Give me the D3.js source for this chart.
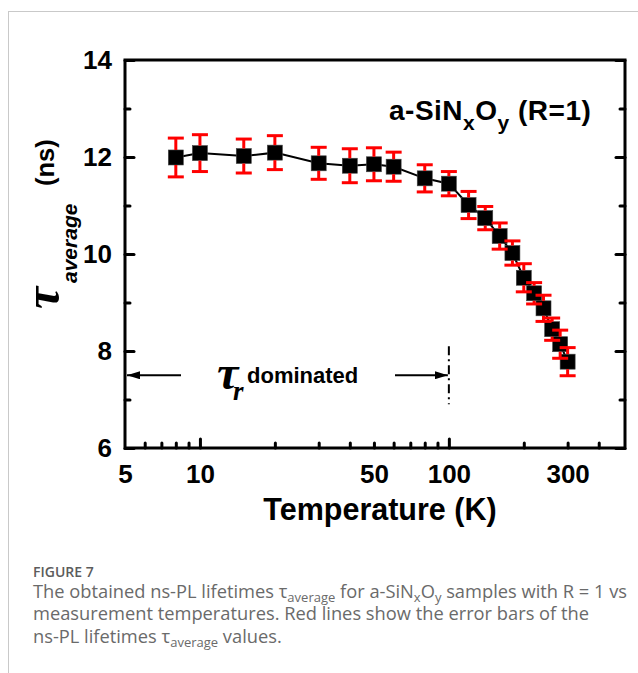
<!DOCTYPE html>
<html>
<head>
<meta charset="utf-8">
<script src="https://cdn.jsdelivr.net/npm/d3@7"></script>
<style>
  html, body { margin: 0; padding: 0; background: #fff; }
  svg { display: block; }
</style>
</head>
<body>
<svg id="fig" width="638" height="673"></svg>
<script>
// Measured temperatures (K), average ns-PL lifetimes (ns) and their error bars (ns)
const temperatures = [8, 10, 15, 20, 30, 40, 50, 60, 80, 100, 120, 140, 160, 180, 200, 220, 240, 260, 280, 300];
const tauAverage   = [11.99, 12.08, 12.02, 12.09, 11.87, 11.82, 11.85, 11.80, 11.56, 11.45, 11.01, 10.74, 10.37, 10.02, 9.51, 9.19, 8.88, 8.45, 8.14, 7.78];
const tauError     = [0.40, 0.38, 0.35, 0.35, 0.33, 0.35, 0.34, 0.30, 0.28, 0.25, 0.28, 0.24, 0.27, 0.25, 0.29, 0.22, 0.27, 0.23, 0.29, 0.29];

// Axis ticks
const xLabelTicks = [5, 10, 50, 100, 300];
const xMajorTicks = [10, 100];
const xMinorTicks = [6, 7, 8, 9, 20, 30, 40, 50, 60, 70, 80, 90, 200, 300, 400];
const yMajorTicks = [6, 8, 10, 12, 14];
const yMinorTicks = [7, 9, 11, 13];

// Region boundary for the radiative-lifetime dominated range
const tauRBoundary = 100;
const tauRArrowY = 7.5;

const svg = d3.select("#fig");
const plotLeft = 125, plotRight = 625, plotTop = 60, plotBottom = 448;

const x = d3.scaleLog().domain([5, 510]).range([plotLeft, plotRight]);
const y = d3.scaleLinear().domain([6, 14]).range([plotBottom, plotTop]);

// Card border
svg.append("line").attr("x1", 8).attr("x2", 638).attr("y1", 11.5).attr("y2", 11.5)
  .attr("stroke", "#c9c9c9").attr("stroke-width", 1);
svg.append("line").attr("x1", 8.5).attr("x2", 8.5).attr("y1", 11).attr("y2", 673)
  .attr("stroke", "#c9c9c9").attr("stroke-width", 1);

const bold = "'Liberation Sans', Arial, sans-serif";
const serif = "'Liberation Serif', 'Times New Roman', serif";

function styleTicks(g) {
  g.select(".domain").remove();
  g.selectAll(".tick line").attr("stroke", "#000").attr("stroke-width", 3).attr("stroke-linecap", "round");
}

// Bottom axis: labels, major and minor ticks (inward)
svg.append("g").attr("transform", `translate(0,${plotBottom})`)
  .call(d3.axisBottom(x).tickValues(xLabelTicks).tickFormat(d3.format("d")).tickSize(0).tickPadding(17))
  .call(g => { g.select(".domain").remove(); })
  .selectAll("text").attr("font-family", bold).attr("font-weight", "bold").attr("font-size", 26).attr("fill", "#000");
svg.append("g").attr("transform", `translate(0,${plotBottom})`)
  .call(d3.axisBottom(x).tickValues(xMajorTicks).tickFormat("").tickSizeInner(-9).tickSizeOuter(0))
  .call(styleTicks);
svg.append("g").attr("transform", `translate(0,${plotBottom})`)
  .call(d3.axisBottom(x).tickValues(xMinorTicks).tickFormat("").tickSizeInner(-5).tickSizeOuter(0))
  .call(styleTicks);

// Left axis
svg.append("g").attr("transform", `translate(${plotLeft},0)`)
  .call(d3.axisLeft(y).tickValues(yMajorTicks).tickFormat(d3.format("d")).tickSizeInner(-9).tickSizeOuter(0).tickPadding(13))
  .call(styleTicks)
  .selectAll("text").attr("font-family", bold).attr("font-weight", "bold").attr("font-size", 26).attr("fill", "#000");
svg.append("g").attr("transform", `translate(${plotLeft},0)`)
  .call(d3.axisLeft(y).tickValues(yMinorTicks).tickFormat("").tickSizeInner(-5).tickSizeOuter(0))
  .call(styleTicks);

// Right axis (ticks only)
svg.append("g").attr("transform", `translate(${plotRight},0)`)
  .call(d3.axisRight(y).tickValues(yMajorTicks).tickFormat("").tickSizeInner(-9).tickSizeOuter(0))
  .call(styleTicks);
svg.append("g").attr("transform", `translate(${plotRight},0)`)
  .call(d3.axisRight(y).tickValues(yMinorTicks).tickFormat("").tickSizeInner(-5).tickSizeOuter(0))
  .call(styleTicks);

// Frame
svg.append("rect").attr("x", plotLeft).attr("y", plotTop)
  .attr("width", plotRight - plotLeft).attr("height", plotBottom - plotTop)
  .attr("fill", "none").attr("stroke", "#000").attr("stroke-width", 3);

// Data
const points = temperatures.map((t, i) => ({ t, v: tauAverage[i], e: tauError[i] }));
const half = 7.5;

svg.append("path").datum(points)
  .attr("d", d3.line().x(d => x(d.t)).y(d => y(d.v)))
  .attr("fill", "none").attr("stroke", "#000").attr("stroke-width", 2);

svg.append("g").selectAll("rect").data(points).join("rect")
  .attr("x", d => x(d.t) - half).attr("y", d => y(d.v) - half)
  .attr("width", 2 * half).attr("height", 2 * half)
  .attr("fill", "#000").attr("stroke", "#444").attr("stroke-width", 0.6);

const eb = svg.append("g").attr("stroke", "#f00").attr("stroke-width", 3).attr("fill", "none");
points.forEach(d => {
  const cx = x(d.t), yTop = y(d.v + d.e), yBot = y(d.v - d.e), yc = y(d.v);
  eb.append("line").attr("x1", cx).attr("x2", cx).attr("y1", yTop).attr("y2", yc - half);
  eb.append("line").attr("x1", cx).attr("x2", cx).attr("y1", yc + half).attr("y2", yBot);
  eb.append("line").attr("x1", cx - 8).attr("x2", cx + 8).attr("y1", yTop).attr("y2", yTop);
  eb.append("line").attr("x1", cx - 8).attr("x2", cx + 8).attr("y1", yBot).attr("y2", yBot);
});

// Sample label
const lab = svg.append("text").attr("x", 389).attr("y", 120)
  .attr("font-family", bold).attr("font-weight", "bold").attr("font-size", 28)
  .attr("letter-spacing", 0.5).attr("fill", "#000");
lab.append("tspan").text("a-SiN");
lab.append("tspan").attr("font-size", 21).attr("dy", 10).text("x");
lab.append("tspan").attr("dy", -10).text("O");
lab.append("tspan").attr("font-size", 21).attr("dy", 10).text("y");
lab.append("tspan").attr("dy", -10).text(" (R=1)");

// tau_r dominated region annotation
const ay = y(tauRArrowY);
const defs = svg.append("defs");
defs.append("marker").attr("id", "head").attr("viewBox", "0 0 13 8")
  .attr("refX", 13).attr("refY", 4).attr("markerWidth", 13).attr("markerHeight", 8)
  .attr("markerUnits", "userSpaceOnUse").attr("orient", "auto")
  .append("path").attr("d", "M0,0 L13,4 L0,8 Z").attr("fill", "#000");
svg.append("line").attr("x1", 181).attr("x2", x(5) + 2).attr("y1", ay).attr("y2", ay)
  .attr("stroke", "#000").attr("stroke-width", 2).attr("marker-end", "url(#head)");
svg.append("line").attr("x1", 395).attr("x2", x(tauRBoundary) - 1).attr("y1", ay).attr("y2", ay)
  .attr("stroke", "#000").attr("stroke-width", 2).attr("marker-end", "url(#head)");
svg.append("line").attr("x1", x(tauRBoundary)).attr("x2", x(tauRBoundary))
  .attr("y1", y(8.1)).attr("y2", y(6.9))
  .attr("stroke", "#000").attr("stroke-width", 2).attr("stroke-dasharray", "9,4,2,4");

svg.append("text").attr("x", 217).attr("y", 389)
  .attr("font-family", serif).attr("font-style", "italic").attr("font-weight", "bold")
  .attr("font-size", 48).attr("fill", "#000").text("τ");
svg.append("text").attr("x", 233).attr("y", 400)
  .attr("font-family", serif).attr("font-style", "italic").attr("font-weight", "bold")
  .attr("font-size", 27).attr("fill", "#000").text("r");
svg.append("text").attr("x", 247).attr("y", 383)
  .attr("font-family", bold).attr("font-weight", "bold").attr("font-size", 22).attr("fill", "#000").text("dominated");

// Axis titles
svg.append("text").attr("x", 380).attr("y", 520).attr("text-anchor", "middle")
  .attr("font-family", bold).attr("font-weight", "bold").attr("font-size", 30.5).attr("fill", "#000")
  .text("Temperature (K)");

const yTitle = svg.append("g").attr("transform", "translate(56,0) rotate(-90)");
yTitle.append("text").attr("x", -309).attr("y", 3)
  .attr("font-family", serif).attr("font-style", "italic").attr("font-weight", "bold")
  .attr("font-size", 50).attr("fill", "#000").text("τ");
yTitle.append("text").attr("x", -283).attr("y", 21)
  .attr("font-family", bold).attr("font-weight", "bold").attr("font-style", "italic").attr("font-size", 21).attr("fill", "#000").text("average");
yTitle.append("text").attr("x", -186).attr("y", -2)
  .attr("font-family", bold).attr("font-weight", "bold").attr("font-size", 25.5).attr("fill", "#000").text("(ns)");

// Caption
const cap = "'Open Sans', 'Noto Sans', sans-serif";
svg.append("text").attr("x", 33).attr("y", 577)
  .attr("font-family", cap).attr("font-weight", 600).attr("font-size", 14).attr("fill", "#5c5c5c").text("FIGURE 7");
function captionLine(yPos) {
  return svg.append("text").attr("x", 33).attr("y", yPos)
    .attr("font-family", cap).attr("font-size", 18.3).attr("fill", "#6a6a6a");
}
const l1 = captionLine(598);
l1.append("tspan").text("The obtained ns-PL lifetimes τ");
l1.append("tspan").attr("font-size", 13).attr("dy", 4).text("average");
l1.append("tspan").attr("dy", -4).text(" for a-SiN");
l1.append("tspan").attr("font-size", 13).attr("dy", 4).text("x");
l1.append("tspan").attr("dy", -4).text("O");
l1.append("tspan").attr("font-size", 13).attr("dy", 4).text("y");
l1.append("tspan").attr("dy", -4).text(" samples with R = 1 vs");
captionLine(620).text("measurement temperatures. Red lines show the error bars of the");
const l3 = captionLine(643);
l3.append("tspan").text("ns-PL lifetimes τ");
l3.append("tspan").attr("font-size", 13).attr("dy", 4).text("average");
l3.append("tspan").attr("dy", -4).text(" values.");
</script>
</body>
</html>
